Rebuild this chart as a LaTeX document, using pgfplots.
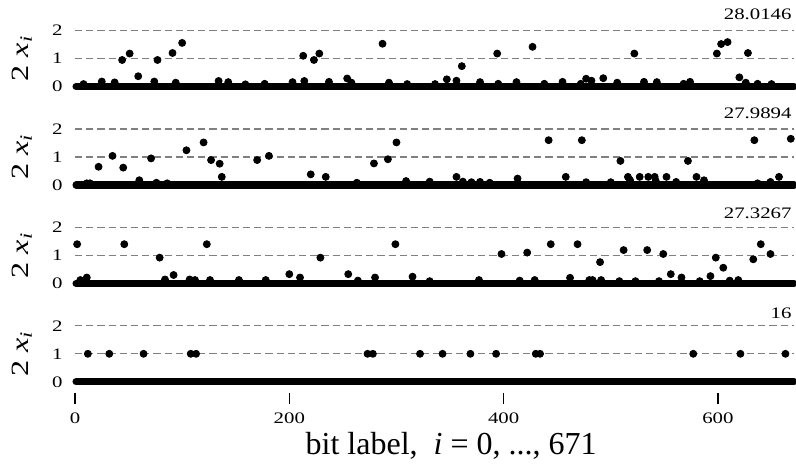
\documentclass[border=0pt]{standalone}
\usepackage{fontspec}
\setmainfont{Liberation Serif}[FakeStretch=1.3]
\newfontfamily\plainserif{Liberation Serif}
\usepackage{pgfplots}
\pgfplotsset{compat=1.18}
\usepackage{pgfplotstable}

% nonzero bits, one table per run
\pgfplotstableread{
i v
8 0.09
25 0.18
37 0.15
44 0.95
51 1.18
59 0.37
74 0.18
77 0.95
91 1.20
94 0.14
100 1.56
134 0.20
143 0.16
159 0.08
177 0.10
203 0.16
213 1.10
214 0.20
223 0.95
228 1.18
237 0.17
254 0.29
258 0.14
287 1.53
293 0.14
310 0.09
336 0.09
347 0.26
356 0.21
361 0.73
378 0.16
394 1.18
395 0.10
412 0.16
427 1.42
438 0.10
455 0.17
472 0.10
477 0.28
482 0.21
493 0.30
506 0.14
522 1.18
531 0.17
543 0.16
568 0.10
574 0.17
599 1.18
603 1.52
609 1.59
620 0.33
626 0.14
628 1.20
637 0.10
650 0.09
}\runA

\pgfplotstableread{
i v
11 0.06
14 0.06
22 0.65
35 1.04
45 0.62
60 0.17
71 0.95
76 0.08
86 0.06
104 1.24
120 1.52
127 0.89
135 0.76
137 0.29
170 0.89
181 1.04
220 0.38
234 0.29
263 0.08
279 0.77
292 0.92
300 1.52
309 0.14
331 0.12
356 0.29
362 0.12
370 0.10
378 0.11
387 0.08
413 0.23
442 1.60
458 0.29
473 1.60
477 0.10
500 0.10
509 0.86
516 0.29
518 0.17
527 0.29
535 0.29
541 0.29
542 0.14
552 0.29
561 0.11
572 0.86
580 0.29
587 0.17
634 1.60
637 0.06
649 0.11
657 0.29
668 1.65
}\runB

\pgfplotstableread{
i v
2 1.40
5 0.12
11 0.21
46 1.40
79 0.92
84 0.14
92 0.30
107 0.14
112 0.12
123 1.40
126 0.12
153 0.12
178 0.12
200 0.33
210 0.21
229 0.92
255 0.33
264 0.10
280 0.21
299 1.40
315 0.24
331 0.08
377 0.12
398 1.05
415 0.10
422 1.10
429 0.12
444 1.40
462 0.20
469 1.40
480 0.12
483 0.12
490 0.76
491 0.12
508 0.08
512 1.19
523 0.08
534 1.19
545 0.08
549 1.05
556 0.33
566 0.21
583 0.08
593 0.26
598 0.92
605 0.56
611 0.10
619 0.12
633 0.86
640 1.40
649 1.05
}\runC

\pgfplotstableread{
i v
12 1
32 1
64 1
108 1
113 1
273 1
278 1
322 1
343 1
369 1
393 1
430 1
434 1
577 1
621 1
663 1
}\runD

\newcommand{\ticksize}{\fontsize{8}{9.6}\selectfont}
\newcommand{\labsize}{\fontsize{12.4}{15}\selectfont}

\pgfplotsset{
  panel/.style={
    scale only axis, width=359.5pt, height=36.4pt,
    xmin=0, xmax=671, ymin=-0.4, ymax=2.2,
    axis line style={draw=none},
    clip=false,
    ytick={0,1,2}, xtick=\empty,
    ytick style={draw=none},
    ymajorgrids,
    grid style={gray, line width=0.6pt, dash pattern=on 3.6pt off 2pt},
    tick label style={font=\ticksize},
    /pgf/number format/assume math mode=true,
    yticklabel style={inner sep=0pt, xshift=-6pt},
    ylabel={2 \textit{x}\textsubscript{\textit{i}}},
    ylabel style={font=\labsize, at={(axis description cs:-0.074,0.5385)}, anchor=center},
  },
  dots/.style={only marks, mark=*, mark size=1.75pt, black},
  zeroline/.style={black, line width=3.6pt, line cap=round},
}

\begin{document}
\begin{tikzpicture}
\begin{axis}[panel, at={(0,147.6pt)}, anchor=south west]
  \addplot[zeroline] coordinates {(1,0) (671,0)};
  \addplot[dots] table[x=i, y=v] {\runA};
  \node[anchor=base east, font=\ticksize, inner sep=0pt] at (axis cs:669,2.41) {28.0146};
\end{axis}
\begin{axis}[panel, at={(0,98.4pt)}, anchor=south west]
  \addplot[zeroline] coordinates {(1,0) (671,0)};
  \addplot[dots] table[x=i, y=v] {\runB};
  \node[anchor=base east, font=\ticksize, inner sep=0pt] at (axis cs:669,2.37) {27.9894};
\end{axis}
\begin{axis}[panel, at={(0,49.2pt)}, anchor=south west]
  \addplot[zeroline] coordinates {(1,0) (671,0)};
  \addplot[dots] table[x=i, y=v] {\runC};
  \node[anchor=base east, font=\ticksize, inner sep=0pt] at (axis cs:669,2.33) {27.3267};
\end{axis}
\begin{axis}[panel, at={(0,0)}, anchor=south west,
    xtick={0,200,400,600}, xtick pos=bottom, xtick align=outside,
    major tick length=5.5pt,
    xtick style={black, line width=0.8pt},
    xticklabel style={yshift=-1pt},
    xlabel={bit label,\ \ \textit{i} = 0, ..., 671},
    xlabel style={font=\plainserif\fontsize{16}{19}\selectfont, at={(axis cs:351,-0.4)}, anchor=base, yshift=-30.5pt}]
  \addplot[zeroline] coordinates {(1,0) (671,0)};
  \addplot[dots] table[x=i, y=v] {\runD};
  \node[anchor=base east, font=\ticksize, inner sep=0pt] at (axis cs:669,2.25) {16};
\end{axis}
\pgfresetboundingbox
\path[use as bounding box] (-37.5pt,-38.5pt) rectangle (360.5pt,196.5pt);
\end{tikzpicture}
\end{document}
